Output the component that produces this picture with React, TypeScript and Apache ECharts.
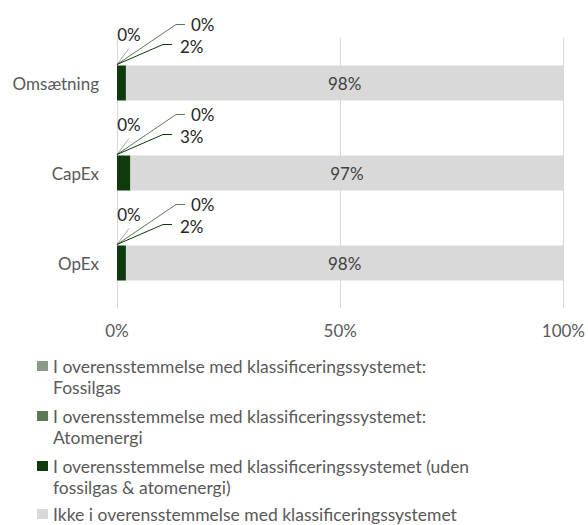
import React, { useEffect, useRef } from "react";
import * as echarts from "echarts";

const categories = ["Omsætning", "CapEx", "OpEx"];
const fossilgas = [0, 0, 0];
const atomenergi = [0, 0, 0];
const uden = [2, 3, 2];
const ikke = [98, 97, 98];

const seriesNames = [
  "I overensstemmelse med klassificeringssystemet:\nFossilgas",
  "I overensstemmelse med klassificeringssystemet:\nAtomenergi",
  "I overensstemmelse med klassificeringssystemet (uden\nfossilgas & atomenergi)",
  "Ikke i overensstemmelse med klassificeringssystemet",
];
const colors = ["#8a9c85", "#5b7a55", "#0f3a0c", "#d9d9d9"];
const leaderColors = ["#a6a6a6", "#5b7a55", "#0f3a0c"];

const FONT = "Lato";
const FS = 17;
const LFS = 17.5;
const BAR_W = 35;

export default function App() {
  const ref = useRef<HTMLDivElement>(null);
  useEffect(() => {
    if (!ref.current) return;
    const chart = echarts.init(ref.current, null, { renderer: "svg" });
    const legendTops = [366, 416, 466, 514];
    const legends = seriesNames.map((n, i) => {
      const twoLine = n.includes("\n");
      const lh = twoLine ? 21 : 18;
      return {
        data: [n],
        orient: "vertical",
        left: 37,
        top: legendTops[i] - (twoLine ? lh * 1.5 : lh / 2),
        padding: 0,
        itemWidth: 11,
        itemHeight: 10,
        selectedMode: false,
        icon: "rect",
        formatter: (name: string) => (name.includes("\n") ? "\n" + name : name),
        textStyle: {
          color: "#595959",
          fontFamily: FONT,
          fontSize: LFS,
          lineHeight: lh,
        },
      };
    });
    const barBase = {
      type: "bar",
      stack: "total",
      barWidth: BAR_W,
      silent: true,
    };
    const option: any = {
      animation: false,
      backgroundColor: "#ffffff",
      textStyle: { fontFamily: FONT },
      color: colors,
      legend: legends,
      grid: { left: 117, right: 22.5, top: 38, bottom: 217, containLabel: false },
      xAxis: {
        type: "value",
        min: 0,
        max: 100,
        interval: 50,
        axisLine: { show: false },
        axisTick: { show: false },
        axisLabel: {
          formatter: "{value}%",
          color: "#595959",
          fontFamily: FONT,
          fontSize: FS,
          margin: 14,
        },
        splitLine: { show: true, lineStyle: { color: "#d9d9d9", width: 1 } },
      },
      yAxis: {
        type: "category",
        data: categories,
        inverse: true,
        axisLine: { show: false },
        axisTick: { show: false },
        axisLabel: { color: "#595959", fontFamily: FONT, fontSize: FS, margin: 18 },
      },
      series: [
        { ...barBase, name: seriesNames[0], data: fossilgas },
        { ...barBase, name: seriesNames[1], data: atomenergi },
        { ...barBase, name: seriesNames[2], data: uden },
        {
          ...barBase,
          name: seriesNames[3],
          data: ikke,
          label: {
            show: true,
            position: "inside",
            formatter: "{c}%",
            color: "#404040",
            fontFamily: FONT,
            fontSize: FS,
          },
        },
        {
          type: "custom",
          coordinateSystem: "cartesian2d",
          silent: true,
          z: 10,
          encode: { x: 0, y: 1 },
          data: categories.map((c, i) => [0, c, fossilgas[i], atomenergi[i], uden[i]]),
          renderItem: (params: any, api: any) => {
            const idx = api.value(1);
            const p = api.coord([0, idx]);
            const x0 = p[0];
            const top = p[1] - BAR_W / 2 - 1;
            const txt = (x: number, y: number, v: number, align: string) => ({
              type: "text",
              x,
              y,
              style: {
                text: v + "%",
                fill: "#262626",
                fontFamily: FONT,
                fontSize: FS,
                align,
                verticalAlign: "middle",
              },
            });
            const line = (pts: number[][], color: string) => ({
              type: "polyline",
              shape: { points: pts },
              style: { stroke: color, lineWidth: 1, fill: null },
            });
            return {
              type: "group",
              children: [
                line([[x0, top], [x0 + 12, top - 16]], leaderColors[0]),
                line([[x0, top], [x0 + 59, top - 40], [x0 + 68, top - 40]], leaderColors[1]),
                line([[x0, top], [x0 + 46, top - 20], [x0 + 55, top - 20]], leaderColors[2]),
                txt(x0 + 12, top - 30, api.value(2), "center"),
                txt(x0 + 74, top - 40, api.value(3), "left"),
                txt(x0 + 63, top - 18, api.value(4), "left"),
              ],
            };
          },
        },
      ],
    };
    chart.setOption(option);
    return () => chart.dispose();
  }, []);
  return (
    <div
      ref={ref}
      style={{ position: "absolute", left: 0, top: 0, width: 588, height: 525 }}
    />
  );
}
